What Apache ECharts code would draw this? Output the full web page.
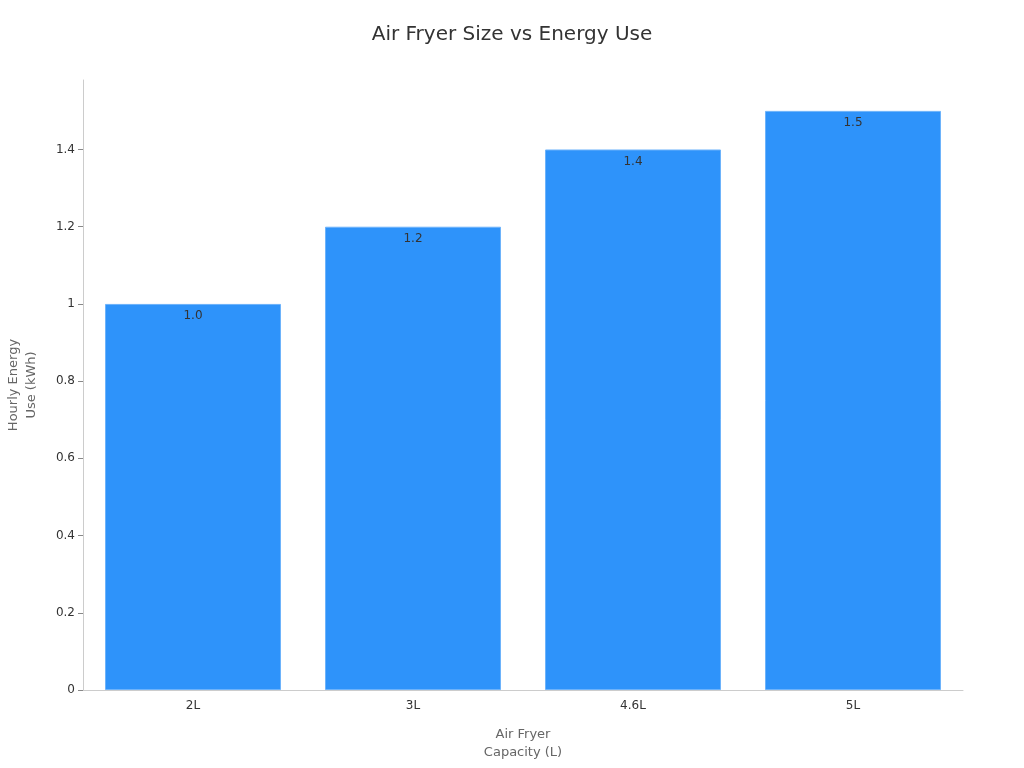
<!DOCTYPE html>
<html>
<head>
<meta charset="utf-8">
<script src="https://cdn.jsdelivr.net/npm/echarts@6/dist/echarts.min.js"></script>
<style>html,body{margin:0;padding:0;background:#fff;}#c{width:1024px;height:768px;}</style>
</head>
<body>
<div id="c"></div>
<script>
const categories = ['2L', '3L', '4.6L', '5L'];
const energyUse = [1.0, 1.2, 1.4, 1.5];
const yTicks = [0, 0.2, 0.4, 0.6, 0.8, 1, 1.2, 1.4];

const chart = echarts.init(document.getElementById('c'));
chart.setOption({
  animation: false,
  textStyle: { fontFamily: 'DejaVu Sans' },
  title: {
    text: 'Air Fryer Size vs Energy Use',
    left: 'center',
    top: 20,
    textStyle: { fontSize: 20, fontWeight: 'normal', color: '#333', fontFamily: 'DejaVu Sans' }
  },
  grid: { left: 83, right: 61, top: 80, bottom: 78, containLabel: false, outerBoundsMode: 'none' },
  xAxis: {
    type: 'category',
    data: categories,
    name: 'Air Fryer\nCapacity (L)',
    nameLocation: 'middle',
    nameGap: 36,
    nameTextStyle: { fontSize: 13, color: '#666', lineHeight: 18 },
    axisLine: { lineStyle: { color: '#ccc' } },
    axisTick: { alignWithLabel: true, lineStyle: { color: '#888' }, length: 5 },
    axisLabel: { color: '#333', fontSize: 12, margin: 10 }
  },
  yAxis: {
    type: 'value',
    min: 0,
    max: 1.58,
    interval: 0.2,
    name: 'Hourly Energy\nUse (kWh)',
    nameLocation: 'middle',
    nameGap: 42,
    nameTextStyle: { fontSize: 13, color: '#666', lineHeight: 18 },
    axisLine: { show: true, lineStyle: { color: '#ccc' } },
    axisTick: { show: true, lineStyle: { color: '#888' }, length: 5, customValues: yTicks },
    splitLine: { show: false },
    axisLabel: {
      color: '#333', fontSize: 12, margin: 8,
      customValues: yTicks,
      formatter: v => String(Math.round(v * 10) / 10)
    }
  },
  series: [{
    type: 'bar',
    data: energyUse,
    barCategoryGap: '20%',
    itemStyle: { color: '#2E93FA', borderColor: '#6DB3FB', borderWidth: 1 },
    label: {
      show: true,
      position: 'insideTop',
      distance: 6,
      color: '#333',
      fontSize: 12,
      formatter: p => p.value.toFixed(1)
    }
  }]
});
</script>
</body>
</html>
